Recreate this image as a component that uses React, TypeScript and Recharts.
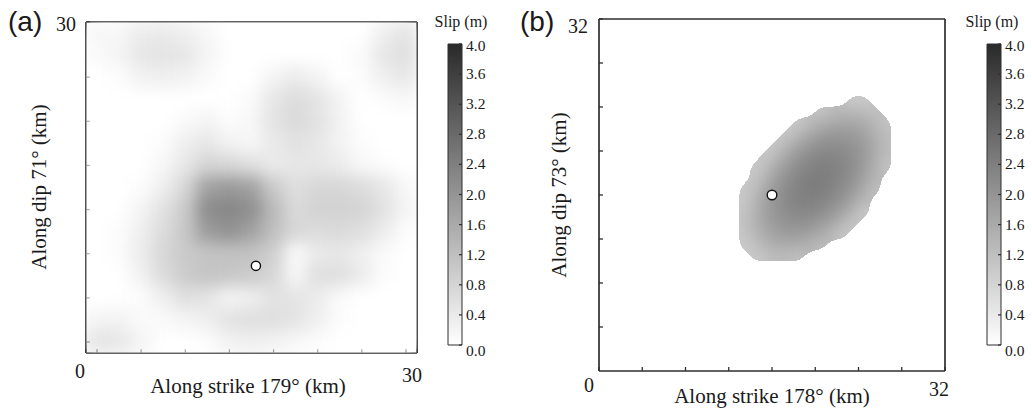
import { ScatterChart, Scatter, XAxis, YAxis, BarChart, Bar } from 'recharts';

const SERIF = '"Liberation Serif", "Times New Roman", serif';
const SANS = '"Liberation Sans", Arial, sans-serif';
const INK = '#1a1a1a';
const FRAME = '#2e2e2e';

// (a) slip on 2 km patches, rows from the top (28-30 km) down to the bottom (0-2 km)
const slipA = [
  [0.15, 0.15, 0.35, 0.4, 0.3, 0.15, 0, 0, 0, 0, 0, 0, 0, 0.3, 0.5],
  [0.1, 0.2, 0.45, 0.5, 0.45, 0.2, 0, 0, 0, 0, 0, 0, 0.1, 0.45, 0.6],
  [0, 0.05, 0.25, 0.3, 0.25, 0.1, 0, 0, 0.2, 0.35, 0.2, 0, 0.05, 0.3, 0.45],
  [0, 0, 0, 0, 0, 0, 0, 0.1, 0.45, 0.65, 0.5, 0.2, 0, 0.05, 0.15],
  [0, 0, 0, 0, 0.1, 0.2, 0.05, 0.15, 0.5, 0.7, 0.55, 0.25, 0, 0, 0],
  [0, 0, 0, 0.05, 0.3, 0.45, 0.25, 0.15, 0.4, 0.55, 0.45, 0.25, 0.05, 0, 0],
  [0, 0, 0, 0.15, 0.45, 0.8, 0.75, 0.6, 0.4, 0.45, 0.45, 0.35, 0.15, 0.05, 0],
  [0, 0, 0.05, 0.3, 0.75, 1.75, 1.9, 1.75, 1.0, 0.6, 0.75, 0.75, 0.65, 0.45, 0.15],
  [0, 0, 0.2, 0.55, 1.0, 2.15, 2.25, 2.1, 1.3, 0.7, 0.85, 0.85, 0.8, 0.55, 0.2],
  [0, 0.05, 0.3, 0.65, 1.05, 1.85, 2.05, 1.75, 1.2, 0.75, 0.65, 0.7, 0.6, 0.35, 0.05],
  [0, 0.05, 0.35, 0.75, 1.0, 1.1, 1.15, 1.15, 0.9, 0.1, 0.4, 0.45, 0.3, 0.1, 0],
  [0, 0, 0.25, 0.65, 0.95, 1.1, 1.05, 0.95, 0.75, 0.15, 0.6, 0.6, 0.35, 0.05, 0],
  [0, 0, 0.05, 0.3, 0.6, 0.5, 0.2, 0.3, 0.55, 0.5, 0.35, 0.1, 0, 0, 0],
  [0.2, 0.25, 0.1, 0.1, 0.2, 0.3, 0.55, 0.6, 0.6, 0.5, 0.3, 0.05, 0, 0, 0],
  [0.5, 0.45, 0.2, 0, 0, 0.05, 0.25, 0.3, 0.25, 0.15, 0.05, 0, 0, 0, 0],
];
const patchA = 2;
const sizeA = 30;

// (b) slip on 1 km cells: row bottom (km), first column (km), values going right
const slipB = [
  { y: 24, x0: 23, v: [1.0, 1.0] },
  { y: 23, x0: 20, v: [1.06, 1.24, 1.34, 1.36, 1.3, 1.16] },
  { y: 22, x0: 18, v: [1.0, 1.25, 1.47, 1.62, 1.68, 1.66, 1.55, 1.37, 1.11] },
  { y: 21, x0: 17, v: [1.02, 1.36, 1.63, 1.81, 1.92, 1.94, 1.88, 1.74, 1.52, 1.22] },
  { y: 20, x0: 16, v: [1.01, 1.4, 1.71, 1.93, 2.08, 2.15, 2.13, 2.03, 1.85, 1.59, 1.25] },
  { y: 19, x0: 15, v: [1.0, 1.36, 1.71, 1.98, 2.17, 2.27, 2.3, 2.24, 2.11, 1.89, 1.59, 1.22] },
  { y: 18, x0: 14, v: [1.0, 1.25, 1.64, 1.95, 2.18, 2.33, 2.4, 2.38, 2.29, 2.12, 1.86, 1.52, 1.11] },
  { y: 17, x0: 14, v: [1.06, 1.49, 1.84, 2.11, 2.3, 2.42, 2.45, 2.39, 2.26, 2.05, 1.76, 1.38] },
  { y: 16, x0: 13, v: [1.0, 1.26, 1.66, 1.97, 2.21, 2.36, 2.43, 2.42, 2.33, 2.16, 1.91, 1.58, 1.17] },
  { y: 15, x0: 13, v: [1.0, 1.4, 1.76, 2.03, 2.23, 2.34, 2.38, 2.33, 2.2, 1.99, 1.7, 1.33] },
  { y: 14, x0: 13, v: [1.07, 1.46, 1.78, 2.02, 2.18, 2.25, 2.25, 2.16, 1.99, 1.75, 1.42, 1.01] },
  { y: 13, x0: 13, v: [1.1, 1.46, 1.74, 1.94, 2.05, 2.09, 2.05, 1.92, 1.72, 1.43, 1.06] },
  { y: 12, x0: 13, v: [1.06, 1.38, 1.62, 1.78, 1.86, 1.86, 1.78, 1.61, 1.37, 1.04] },
  { y: 11, x0: 13, v: [1.0, 1.22, 1.43, 1.55, 1.59, 1.55, 1.43, 1.23] },
  { y: 10, x0: 14, v: [1.0, 1.17, 1.25, 1.25, 1.17] },
];
const sizeB = 32;

const hypoA = [{ x: 15.4, y: 7.9 }];
const hypoB = [{ x: 16, y: 16 }];

const xTicksA = [1, 5, 9, 13, 17, 21, 25, 29];
const yTicksA = [1, 5, 9, 13, 17, 21, 25];
const ticksB = [4, 8, 12, 16, 20, 24, 28];
const slipTicks = [0, 0.4, 0.8, 1.2, 1.6, 2.0, 2.4, 2.8, 3.2, 3.6, 4.0];
const slipMax = 4;
const colorbar = [{ name: 'slip', v: slipMax }];

const grey = (v: number) => {
  const g = Math.round(255 - (Math.min(Math.max(v, 0), slipMax) / slipMax) * 213);
  return `rgb(${g},${g},${g})`;
};

const cellsA = slipA.flatMap((row, r) =>
  row.map((v, c) => ({ x: (c + 0.5) * patchA, y: sizeA - (r + 0.5) * patchA, v }))
);
const cellsB = slipB.flatMap((row) =>
  row.v.map((v, i) => ({ x: row.x0 + i + 0.5, y: row.y + 0.5, v }))
);

const frame = { stroke: FRAME, strokeWidth: 1.7 };
const tickMark = { stroke: FRAME, strokeWidth: 1.3 };

const cellShape = (w: number, h: number) => (p: any) => {
  const v = p.payload ? p.payload.v : p.v;
  return (
    <rect
      x={p.cx - w / 2 - 0.4}
      y={p.cy - h / 2 - 0.4}
      width={w + 0.8}
      height={h + 0.8}
      fill={grey(v)}
    />
  );
};

const hypoShape = (r: number) => (p: any) => (
  <circle cx={p.cx} cy={p.cy} r={r} fill="#fff" stroke="#111" strokeWidth={1.4} />
);

const noLabel = () => <g />;

// only the end values of each axis carry a number; offsets are [dx, dy]
const cornerTick = (spots: Record<number, number[]>, anchor: string) => (p: any) => {
  const spot = spots[p.payload.value];
  if (!spot) return <g />;
  return (
    <text
      x={p.x + spot[0]}
      y={p.y + spot[1]}
      textAnchor={anchor}
      fontFamily={SERIF}
      fontSize={20}
      fill={INK}
    >
      {p.payload.value}
    </text>
  );
};

const scaleTick = (p: any) => {
  const v = p.payload.value;
  const shift = v === slipMax ? 2 : v === 0 ? 6 : 0;
  return (
    <text x={p.x} y={p.y + 5 + shift} textAnchor="start" fontFamily={SERIF} fontSize={15.5} fill={INK}>
      {v.toFixed(1)}
    </text>
  );
};

function PanelA() {
  return (
    <div style={{ position: 'absolute', left: 0, top: 0 }}>
      <ScatterChart width={440} height={409} margin={{ top: 20, right: 13, bottom: 16, left: 46 }}>
        <XAxis
          type="number"
          dataKey="x"
          domain={[0, sizeA]}
          allowDataOverflow
          ticks={[0, ...xTicksA, sizeA]}
          interval={0}
          height={40}
          tickSize={-4}
          tickMargin={4}
          axisLine={frame}
          tickLine={tickMark}
          tick={cornerTick({ 0: [-6, 25], 30: [-5, 29] }, 'middle')}
        />
        <XAxis xAxisId="top" orientation="top" type="number" domain={[0, sizeA]} height={2} tick={false} tickLine={false} axisLine={frame} />
        <YAxis
          type="number"
          dataKey="y"
          domain={[0, sizeA]}
          allowDataOverflow
          ticks={[...yTicksA, sizeA]}
          interval={0}
          width={40}
          tickSize={-4}
          tickMargin={14}
          axisLine={frame}
          tickLine={tickMark}
          tick={cornerTick({ 30: [0, 9] }, 'end')}
        />
        <YAxis yAxisId="right" orientation="right" type="number" domain={[0, sizeA]} ticks={yTicksA} interval={0} width={10} tickSize={-4} tick={noLabel} tickLine={tickMark} axisLine={frame} />
        <Scatter data={cellsA} className="slip-a" shape={cellShape((331 / sizeA) * patchA, (331 / sizeA) * patchA)} isAnimationActive={false} />
        <Scatter data={hypoA} shape={hypoShape(4.6)} isAnimationActive={false} />
      </ScatterChart>
    </div>
  );
}

function PanelB() {
  return (
    <div style={{ position: 'absolute', left: 500, top: 0 }}>
      <ScatterChart width={460} height={409} margin={{ top: 17, right: 5, bottom: 0, left: 59 }}>
        <XAxis
          type="number"
          dataKey="x"
          domain={[0, sizeB]}
          allowDataOverflow
          ticks={[0, ...ticksB, sizeB]}
          interval={0}
          height={38}
          tickSize={-4}
          tickMargin={4}
          axisLine={frame}
          tickLine={tickMark}
          tick={cornerTick({ 0: [-10, 21], 32: [-6, 25] }, 'middle')}
        />
        <XAxis xAxisId="top" orientation="top" type="number" domain={[0, sizeB]} ticks={ticksB} interval={0} height={2} tickSize={-4} tick={noLabel} tickLine={tickMark} axisLine={frame} />
        <YAxis
          type="number"
          dataKey="y"
          domain={[0, sizeB]}
          allowDataOverflow
          ticks={[...ticksB, sizeB]}
          interval={0}
          width={40}
          tickSize={-4}
          tickMargin={15}
          axisLine={frame}
          tickLine={tickMark}
          tick={cornerTick({ 32: [0, 14] }, 'end')}
        />
        <YAxis yAxisId="right" orientation="right" type="number" domain={[0, sizeB]} ticks={ticksB} interval={0} width={10} tickSize={-4} tick={noLabel} tickLine={tickMark} axisLine={frame} />
        <Scatter data={cellsB} className="slip-b" shape={cellShape(346 / sizeB, 352 / sizeB)} isAnimationActive={false} />
        <Scatter data={hypoB} shape={hypoShape(4.8)} isAnimationActive={false} />
      </ScatterChart>
    </div>
  );
}

function Colorbar({ left, width, marginLeft }: { left: number; width: number; marginLeft: number }) {
  return (
    <div style={{ position: 'absolute', left, top: 0 }}>
      <BarChart
        width={width}
        height={380}
        data={colorbar}
        margin={{ top: 44, right: 0, bottom: 35, left: marginLeft }}
        barCategoryGap={0}
      >
        <XAxis dataKey="name" hide />
        <YAxis
          orientation="right"
          type="number"
          domain={[0, slipMax]}
          ticks={slipTicks}
          interval={0}
          width={width - marginLeft - 14}
          tickSize={-3}
          tickMargin={7}
          axisLine={false}
          tickLine={{ stroke: FRAME, strokeWidth: 1.2 }}
          tick={scaleTick}
        />
        <Bar dataKey="v" fill="url(#slipScale)" stroke={FRAME} strokeWidth={1} isAnimationActive={false} />
      </BarChart>
    </div>
  );
}

export default function App() {
  const serif = { fontFamily: SERIF, fill: INK };
  return (
    <div style={{ position: 'absolute', left: 0, top: 0, width: 1032, height: 409, background: '#fff' }}>
      <style>{'.slip-a { filter: url(#blurA); } .slip-b { filter: url(#edgeB); }'}</style>
      <svg width={0} height={0} style={{ position: 'absolute' }}>
        <defs>
          <filter id="blurA" x="0" y="0" width="1" height="1" colorInterpolationFilters="sRGB">
            <feGaussianBlur stdDeviation={8} edgeMode="duplicate" />
          </filter>
          <filter id="edgeB" x="-10%" y="-10%" width="120%" height="120%" colorInterpolationFilters="sRGB">
            <feGaussianBlur stdDeviation={6.5} />
            <feComponentTransfer>
              <feFuncA type="discrete" tableValues="0 1" />
            </feComponentTransfer>
          </filter>
          <linearGradient id="slipScale" x1="0" y1="0" x2="0" y2="1">
            <stop offset="0" stopColor={grey(slipMax)} />
            <stop offset="1" stopColor="#ffffff" />
          </linearGradient>
        </defs>
      </svg>
      <svg width={1032} height={409} style={{ position: 'absolute', left: 0, top: 0 }}>
        <text x={8} y={31} fontFamily={SANS} fontSize={28} fill={INK}>(a)</text>
        <text x={520} y={31} fontFamily={SANS} fontSize={28} fill={INK}>(b)</text>
        <text x={248} y={393} textAnchor="middle" fontSize={21} {...serif}>Along strike 179° (km)</text>
        <text x={772} y={403} textAnchor="middle" fontSize={21} {...serif}>Along strike 178° (km)</text>
        <text transform="translate(46,187) rotate(-90)" textAnchor="middle" fontSize={21} {...serif}>Along dip 71° (km)</text>
        <text transform="translate(566,195) rotate(-90)" textAnchor="middle" fontSize={21} {...serif}>Along dip 73° (km)</text>
        <text x={461} y={27} textAnchor="middle" fontSize={16} {...serif}>Slip (m)</text>
        <text x={992} y={27} textAnchor="middle" fontSize={16} {...serif}>Slip (m)</text>
      </svg>
      <PanelA />
      <PanelB />
      <Colorbar left={420} width={90} marginLeft={28} />
      <Colorbar left={950} width={82} marginLeft={37} />
    </div>
  );
}
